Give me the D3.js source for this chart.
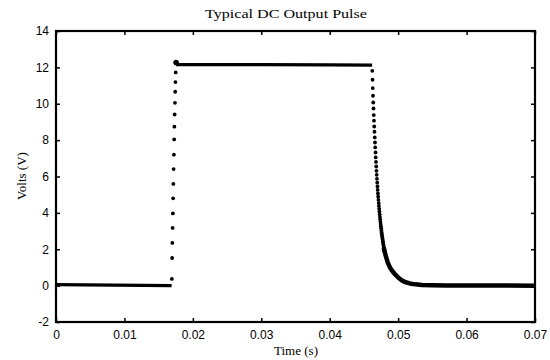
<!DOCTYPE html>
<html>
<head>
<meta charset="utf-8">
<script src="https://cdn.jsdelivr.net/npm/d3@7"></script>
<style>
  body { margin: 0; background: #fff; }
  svg { display: block; }
  .tick text { font-family: Arial, "Liberation Sans", sans-serif; font-size: 12px; fill: #000; }
  .lbl { font-family: "Times New Roman", "Liberation Serif", serif; font-size: 13px; fill: #000; }
</style>
</head>
<body>
<svg id="chart"></svg>
<script>
// Tick values
const xTicks = [0, 0.01, 0.02, 0.03, 0.04, 0.05, 0.06, 0.07];
const yTicks = [-2, 0, 2, 4, 6, 8, 10, 12, 14];

// Baseline before the pulse (time s, volts)
const baseline = [[0, 0.05], [0.0169, 0.0]];

// Rising edge samples
const rise = [
  [0.01693, 0.37], [0.01697, 1.52], [0.01700, 2.35], [0.01704, 3.17],
  [0.01708, 3.97], [0.01712, 4.80], [0.01715, 5.59], [0.01719, 6.41],
  [0.01723, 7.20], [0.01727, 8.04], [0.01730, 8.74], [0.01734, 9.41],
  [0.01738, 10.05], [0.01742, 10.66], [0.01745, 11.19], [0.01749, 11.72]
];

// First sample on the top of the pulse
const peak = [[0.01755, 12.27]];

// Flat top of the pulse
const plateau = [[0.01755, 12.15], [0.0300, 12.15], [0.0400, 12.14], [0.04620, 12.12]];

// Falling edge samples
const fall = [
  [0.04622, 11.81], [0.04626, 11.32], [0.04629, 10.86], [0.04633, 10.44],
  [0.04636, 10.07], [0.04640, 9.74], [0.04644, 9.38], [0.04647, 9.07],
  [0.04651, 8.75], [0.04654, 8.46], [0.04658, 8.15], [0.04662, 7.87],
  [0.04665, 7.60], [0.04669, 7.32], [0.04672, 7.05], [0.04676, 6.80],
  [0.04680, 6.55], [0.04683, 6.31], [0.04687, 6.09], [0.04690, 5.87],
  [0.04694, 5.66], [0.04698, 5.45], [0.04701, 5.26], [0.04705, 5.07],
  [0.04708, 4.89], [0.04712, 4.71], [0.04716, 4.54], [0.04719, 4.38],
  [0.04723, 4.22], [0.04726, 4.07], [0.04730, 3.92], [0.04734, 3.78],
  [0.04737, 3.65], [0.04741, 3.51], [0.04744, 3.39], [0.04748, 3.27],
  [0.04752, 3.15], [0.04755, 3.03], [0.04759, 2.92], [0.04762, 2.82],
  [0.04766, 2.72], [0.04770, 2.62], [0.04773, 2.53], [0.04777, 2.44],
  [0.04780, 2.35], [0.04784, 2.26], [0.04788, 2.18], [0.04791, 2.10],
  [0.04795, 2.03], [0.04798, 1.95], [0.04802, 1.88]
];

// Decay tail, dense enough that the samples merge into a line
const tail = [
  [0.04790, 2.10], [0.04802, 1.88], [0.04820, 1.62], [0.04850, 1.25], [0.04880, 1.00],
  [0.04920, 0.78], [0.04960, 0.60], [0.05000, 0.45], [0.05050, 0.30],
  [0.05100, 0.20], [0.05170, 0.12], [0.05250, 0.07], [0.05350, 0.04],
  [0.05500, 0.02], [0.05700, 0.01], [0.07000, 0.0]
];

const W = 550, H = 360;
const svg = d3.select('#chart').attr('width', W).attr('height', H);

const x = d3.scaleLinear().domain([0, 0.07]).range([56, 535]);
const y = d3.scaleLinear().domain([-2, 14]).range([322, 31]);

// axes with inward ticks (box style)
svg.append('g')
  .attr('transform', `translate(0,${y(-2)})`)
  .call(d3.axisBottom(x).tickValues(xTicks).tickSize(-4).tickPadding(8).tickFormat(d3.format('')))
  .call(g => g.select('.domain').remove());

svg.append('g')
  .attr('transform', `translate(0,${y(14)})`)
  .call(d3.axisTop(x).tickValues(xTicks).tickSize(-4).tickFormat(''))
  .call(g => g.select('.domain').remove());

svg.append('g')
  .attr('transform', `translate(${x(0)},0)`)
  .call(d3.axisLeft(y).tickValues(yTicks).tickSize(-4).tickPadding(7).tickFormat(d => String(d)))
  .call(g => g.select('.domain').remove());

svg.append('g')
  .attr('transform', `translate(${x(0.07)},0)`)
  .call(d3.axisRight(y).tickValues(yTicks).tickSize(-4).tickFormat(''))
  .call(g => g.select('.domain').remove());

svg.selectAll('.tick line').attr('stroke', '#000').attr('stroke-width', 1.5);

// frame
svg.append('rect')
  .attr('x', x(0)).attr('y', y(14))
  .attr('width', x(0.07) - x(0)).attr('height', y(-2) - y(14))
  .attr('fill', 'none').attr('stroke', '#000').attr('stroke-width', 2.2);

const line = d3.line().x(d => x(d[0])).y(d => y(d[1]));

[baseline, plateau].forEach(seg => {
  svg.append('path')
    .datum(seg)
    .attr('fill', 'none')
    .attr('stroke', '#000')
    .attr('stroke-width', 3.2)
    .attr('d', line);
});

svg.append('path')
  .datum(tail)
  .attr('fill', 'none')
  .attr('stroke', '#000')
  .attr('stroke-width', 4.5)
  .attr('stroke-linejoin', 'round')
  .attr('d', line);

svg.selectAll('.dot')
  .data(rise.concat(fall))
  .enter().append('circle')
  .attr('cx', d => x(d[0]))
  .attr('cy', d => y(d[1]))
  .attr('r', 1.9)
  .attr('fill', '#000');

svg.selectAll('.peak')
  .data(peak)
  .enter().append('circle')
  .attr('cx', d => x(d[0]))
  .attr('cy', d => y(d[1]))
  .attr('r', 2.8)
  .attr('fill', '#000');

// labels
svg.append('text').attr('class', 'lbl')
  .attr('x', 286).attr('y', 18).attr('text-anchor', 'middle')
  .attr('textLength', 162).attr('lengthAdjust', 'spacingAndGlyphs')
  .text('Typical DC Output Pulse');

svg.append('text').attr('class', 'lbl')
  .attr('x', 296).attr('y', 355).attr('text-anchor', 'middle')
  .text('Time (s)');

svg.append('text').attr('class', 'lbl')
  .attr('transform', 'translate(26,176) rotate(-90)')
  .attr('text-anchor', 'middle')
  .text('Volts (V)');
</script>
</body>
</html>
